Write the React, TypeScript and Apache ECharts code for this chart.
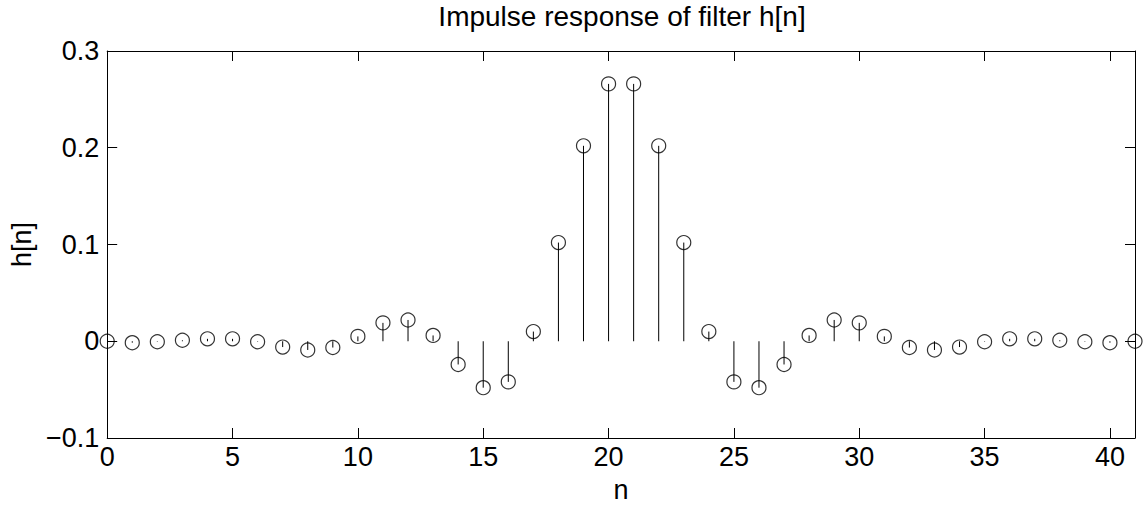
import React, { useEffect, useRef } from "react";
import * as echarts from "echarts";

const nValues = [
  0, 1, 2, 3, 4, 5, 6, 7, 8, 9, 10, 11, 12, 13, 14, 15, 16, 17, 18, 19, 20,
  21, 22, 23, 24, 25, 26, 27, 28, 29, 30, 31, 32, 33, 34, 35, 36, 37, 38, 39, 40, 41,
];
const hValues = [
  0.0, -0.0015, -0.0005, 0.001, 0.0025, 0.0025, -0.0005, -0.006, -0.009, -0.0065,
  0.005, 0.019, 0.022, 0.006, -0.024, -0.048, -0.042, 0.01, 0.102, 0.202, 0.266,
  0.266, 0.202, 0.102, 0.01, -0.042, -0.048, -0.024, 0.006, 0.022, 0.019, 0.005,
  -0.0065, -0.009, -0.006, -0.0005, 0.0025, 0.0025, 0.001, -0.0005, -0.0015, 0.0,
];
const titleText = "Impulse response of filter h[n]";
const xName = "n";
const yName = "h[n]";

const FONT = "'Liberation Sans', Arial, Helvetica, sans-serif";

export default function App() {
  const ref = useRef<HTMLDivElement>(null);
  useEffect(() => {
    if (!ref.current) return;
    const chart = echarts.init(ref.current, undefined, { renderer: "svg" });
    const data = nValues.map((n, i) => [n, hValues[i]]);
    const axisCommon = {
      type: "value" as const,
      axisLine: { show: true, onZero: false, lineStyle: { color: "#000", width: 1 } },
      axisTick: { show: true, inside: true, length: 10, lineStyle: { color: "#000", width: 1 } },
      splitLine: { show: false },
    };
    chart.setOption({
      animation: false,
      backgroundColor: "#fff",
      textStyle: { fontFamily: FONT },
      title: {
        text: titleText,
        left: 617,
        textAlign: "center",
        top: -3,
        textStyle: { fontFamily: FONT, fontSize: 28, fontWeight: "normal", color: "#000" },
      },
      grid: { left: 98.5, right: 8, top: 51, bottom: 65, containLabel: false },
      xAxis: [
        {
          ...axisCommon,
          position: "bottom",
          min: 0,
          max: 41,
          interval: 5,
          name: xName,
          nameLocation: "middle",
          nameGap: 38,
          nameTextStyle: { fontFamily: FONT, fontSize: 27, color: "#000" },
          axisLabel: {
            show: true,
            margin: 5,
            fontFamily: FONT,
            fontSize: 27,
            color: "#000",
            showMaxLabel: false,
          },
        },
        {
          ...axisCommon,
          position: "top",
          min: 0,
          max: 41,
          interval: 5,
          axisLabel: { show: false },
        },
      ],
      yAxis: [
        {
          ...axisCommon,
          position: "left",
          min: -0.1,
          max: 0.3,
          interval: 0.1,
          name: yName,
          nameLocation: "middle",
          nameGap: 68,
          nameRotate: 90,
          nameTextStyle: { fontFamily: FONT, fontSize: 27, color: "#000" },
          axisLabel: {
            show: true,
            margin: 8,
            fontFamily: FONT,
            fontSize: 27,
            color: "#000",
            formatter: (v: number) => {
              const r = Math.round(v * 10) / 10;
              if (r === 0) return "0";
              return (r < 0 ? "\u2212" : "") + Math.abs(r).toFixed(1);
            },
          },
        },
        {
          ...axisCommon,
          position: "right",
          min: -0.1,
          max: 0.3,
          interval: 0.1,
          axisLabel: { show: false },
        },
      ],
      series: [
        {
          type: "custom",
          xAxisIndex: 0,
          yAxisIndex: 0,
          data,
          renderItem: (params: any, api: any) => {
            const x = api.value(0);
            const y = api.value(1);
            const p0 = api.coord([x, 0]);
            const p1 = api.coord([x, y]);
            return {
              type: "line",
              shape: { x1: p0[0], y1: p0[1], x2: p1[0], y2: p1[1] },
              style: { stroke: "#000", lineWidth: 1 },
            };
          },
          silent: true,
          z: 2,
        },
        {
          type: "scatter",
          xAxisIndex: 0,
          yAxisIndex: 0,
          data,
          symbol: "circle",
          symbolSize: 14,
          itemStyle: { color: "rgba(0,0,0,0)", borderColor: "#000", borderWidth: 1.2 },
          silent: true,
          z: 3,
        },
      ],
    });
    return () => chart.dispose();
  }, []);
  return <div ref={ref} style={{ width: 1143, height: 508, position: "absolute", left: 0, top: 0 }} />;
}
